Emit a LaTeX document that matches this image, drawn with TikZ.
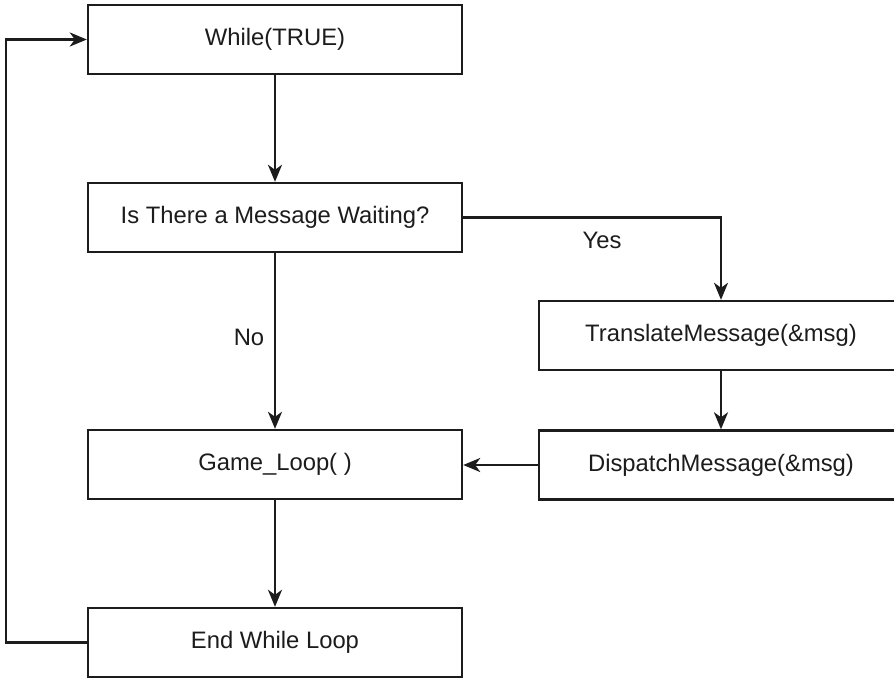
\documentclass[tikz,border=0pt]{standalone}
\usepackage{fontspec}
\setmainfont{Liberation Sans}
\usetikzlibrary{arrows.meta}
\definecolor{ink}{HTML}{1C1C1C}
\begin{document}
\begin{tikzpicture}[x=1pt,y=-1pt,
  box/.style={draw=ink, line width=2.4pt, rectangle, minimum height=69pt, inner sep=0pt,
     font=\fontsize{23.8}{28}\selectfont, text=ink},
  lbox/.style={box, minimum width=374pt},
  rbox/.style={box, minimum width=364pt},
  lbl/.style={font=\fontsize{23.8}{28}\selectfont, text=ink, inner sep=0pt},
  arr/.style={draw=ink, line width=2.4pt, -{Stealth[length=17pt,width=14pt,inset=5pt]}}]
\useasboundingbox (0,0) rectangle (894,678);
\clip (0,0) rectangle (894,678);
\fill[white] (0,0) rectangle (894,678);

\node[lbox] (while) at (275,39.5) {While(TRUE)};
\node[lbox] (msg) at (275,217.5) {Is There a Message Waiting?};
\node[lbox] (game) at (275,464.5) {Game\_Loop( )};
\node[lbox] (endw) at (275,642.5) {End While Loop};
\node[rbox] (trans) at (721,335.5) {TranslateMessage(\&msg)};
\node[rbox] (disp) at (721,465) {DispatchMessage(\&msg)};

\node[lbl] (yes) at (602,240) {Yes};
\node[lbl] (no) at (249,337) {No};

\coordinate (lp) at (6,642.5);

\draw[arr] (while) -- (msg);
\draw[arr] (msg.east) -| (trans.north);
\draw[arr] (msg) -- (game);
\draw[arr] (trans) -- (disp);
\draw[arr] (disp.west) -- (disp.west -| game.east);
\draw[arr] (game) -- (endw);
\draw[arr] (endw.west) -- (lp) |- (while.west);
\end{tikzpicture}
\end{document}
